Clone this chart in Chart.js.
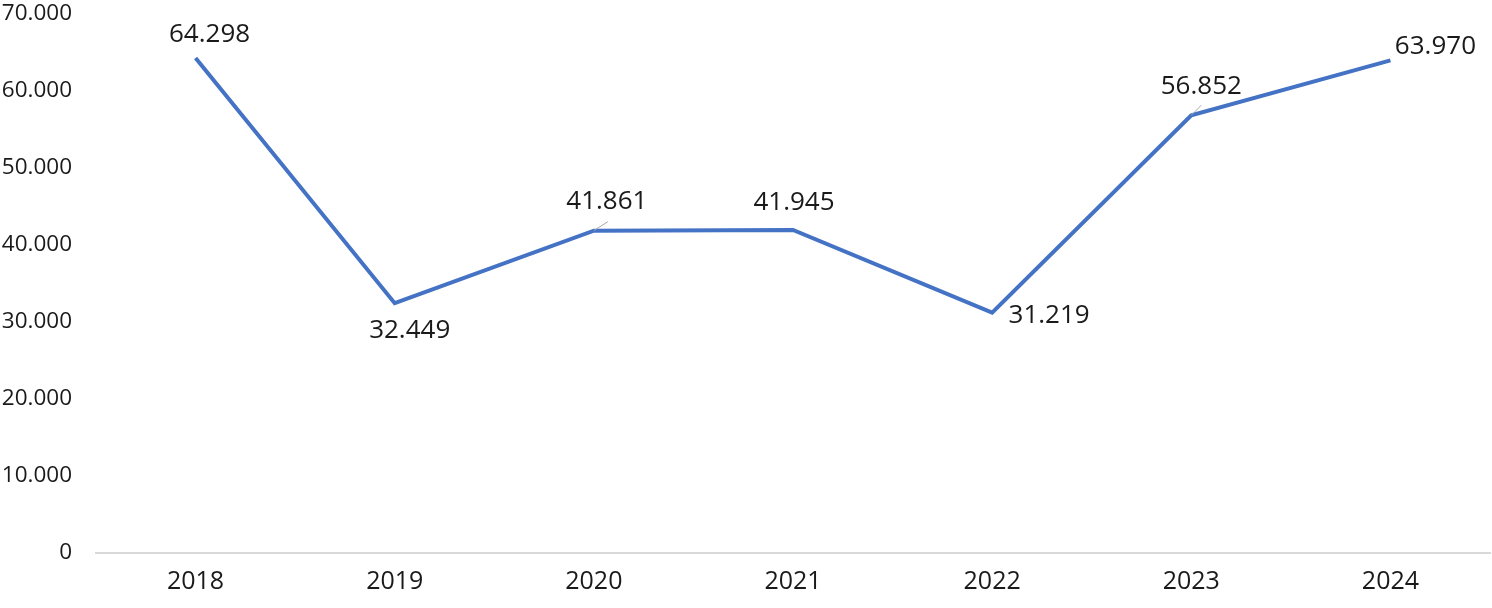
<!DOCTYPE html>
<html lang="en">
<head>
    <meta charset="UTF-8">
    <title>Chart</title>
    <script src="https://cdn.jsdelivr.net/npm/chart.js"></script>
    <style>
        body { margin: 0; background: #fff; }
        #wrap { width: 1492px; height: 608px; }
    </style>
</head>
<body>
    <div id="wrap"><canvas id="lineChart"></canvas></div>

    <script>
        const years = ["2018", "2019", "2020", "2021", "2022", "2023", "2024"];
        const values = [64298, 32449, 41861, 41945, 31219, 56852, 63970];
        const yTicks = [0, 10000, 20000, 30000, 40000, 50000, 60000, 70000];

        // where each value label sits relative to its point (px)
        const labelOffsets = [[14, -23], [15, 27], [13, -29], [1, -27], [57, 3], [10, -29], [45, -14]];
        // small grey leader lines (only the ones excel drew)
        const leaders = { 2: [14, -9], 5: [10, -10] };

        function fmt(v) {
            return String(v).replace(/\B(?=(\d{3})+(?!\d))/g, ".");
        }

        const labelPlugin = {
            id: "valueLabels",
            afterDatasetsDraw(chart) {
                const ctx = chart.ctx;
                const meta = chart.getDatasetMeta(0);
                ctx.save();
                meta.data.forEach((pt, i) => {
                    if (leaders[i]) {
                        ctx.strokeStyle = "#a6a6a6";
                        ctx.lineWidth = 1;
                        ctx.beginPath();
                        ctx.moveTo(pt.x, pt.y);
                        ctx.lineTo(pt.x + leaders[i][0], pt.y + leaders[i][1]);
                        ctx.stroke();
                    }
                    ctx.fillStyle = "#1a1a1a";
                    ctx.font = "26px 'Open Sans'";
                    ctx.textAlign = "center";
                    ctx.textBaseline = "middle";
                    ctx.fillText(fmt(values[i]), pt.x + labelOffsets[i][0], pt.y + labelOffsets[i][1]);
                });
                ctx.restore();
            }
        };

        const ctx = document.getElementById("lineChart").getContext("2d");
        new Chart(ctx, {
            type: "line",
            data: {
                labels: years,
                datasets: [{
                    data: values,
                    borderColor: "#4472C4",
                    borderWidth: 4,
                    pointRadius: 0,
                    tension: 0,
                    fill: false
                }]
            },
            options: {
                responsive: true,
                maintainAspectRatio: false,
                animation: false,
                layout: { padding: { top: 14, right: 2, bottom: -3, left: 0 } },
                plugins: {
                    legend: { display: false },
                    tooltip: { enabled: false }
                },
                scales: {
                    x: {
                        offset: true,
                        grid: { display: false, drawTicks: false },
                        border: { display: true, color: "#d9d9d9", width: 2 },
                        ticks: { color: "#1a1a1a", font: { family: "Open Sans", size: 25 }, padding: 14 }
                    },
                    y: {
                        min: 0,
                        max: 70000,
                        afterFit(s) {
                            s.width = 96;
                            // tick padding would otherwise push the plot down
                            s.paddingTop = 0;
                            s.paddingBottom = 0;
                        },
                        afterBuildTicks(s) { s.ticks = yTicks.map(v => ({ value: v })); },
                        grid: { display: false, drawTicks: false },
                        border: { display: false },
                        ticks: {
                            color: "#1a1a1a",
                            font: { family: "Open Sans", size: 22.5 },
                            padding: 24,
                            callback: v => fmt(v)
                        }
                    }
                }
            },
            plugins: [labelPlugin]
        });
    </script>
</body>
</html>
